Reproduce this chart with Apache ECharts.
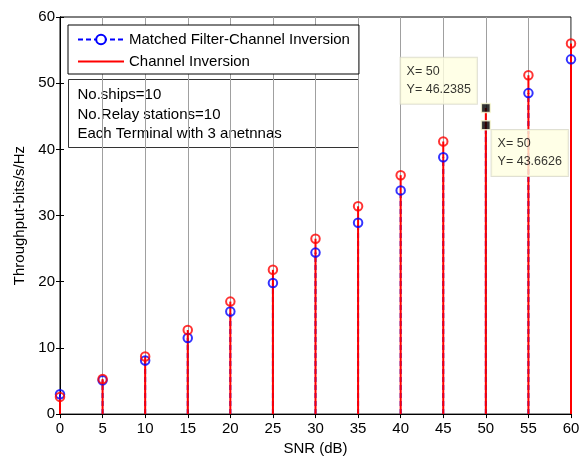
<!DOCTYPE html>
<html><head><meta charset="utf-8">
<script src="https://cdn.jsdelivr.net/npm/echarts@6/dist/echarts.min.js"></script>
<style>html,body{margin:0;padding:0;background:#fff}#c{width:584px;height:461px}</style>
</head><body><div id="c"></div>
<script>
// ---- data ----
const snr = [0, 5, 10, 15, 20, 25, 30, 35, 40, 45, 50, 55, 60];
const matchedFilter = [3.0, 5.1, 8.1, 11.5, 15.5, 19.8, 24.4, 28.9, 33.8, 38.8, 43.6626, 48.5, 53.6];
const channelInversion = [2.6, 5.3, 8.7, 12.7, 17.0, 21.8, 26.5, 31.4, 36.1, 41.2, 46.2385, 51.2, 56.0];
const xTicks = [0, 5, 10, 15, 20, 25, 30, 35, 40, 45, 50, 55, 60];
const yTicks = [0, 10, 20, 30, 40, 50, 60];
const seriesNames = ['Matched Filter-Channel Inversion', 'Channel Inversion'];
const noteLines = ['No.ships=10', 'No.Relay stations=10', 'Each Terminal with 3 anetnnas'];
const tipSNR = 50;

const FONT = 'Arial, "Liberation Sans", Helvetica, sans-serif';
const tipIdx = snr.indexOf(tipSNR);

function stemSeries(id, values, color, dashed) {
  return {
    type: 'custom', id: id, silent: true,
    data: snr.map((x, i) => [x, values[i]]),
    renderItem: (params, api) => {
      const p0 = api.coord([api.value(0), 0]);
      const p1 = api.coord([api.value(0), api.value(1)]);
      return {
        type: 'line',
        shape: {x1: p0[0], y1: p0[1], x2: p1[0], y2: p1[1]},
        style: {stroke: color, lineWidth: 2, lineDash: dashed ? [5, 3] : null}
      };
    }
  };
}
function markerSeries(id, values, color) {
  return {
    type: 'scatter', id: id, silent: true,
    symbol: 'circle', symbolSize: 8.5,
    itemStyle: {color: 'rgba(0,0,0,0)', borderColor: color, borderWidth: 2},
    data: snr.map((x, i) => [x, values[i]]).filter(d => d[0] !== tipSNR)
  };
}
function tipLabel(v) { return 'X= ' + tipSNR + '\nY= ' + v; }

const option = {
  animation: false,
  backgroundColor: '#fff',
  grid: {left: 60, right: 13, top: 17, bottom: 41, show: true, borderColor: '#000', borderWidth: 1, containLabel: false},
  legend: {
    data: [
      {name: seriesNames[0]},
      {name: seriesNames[1], icon: 'path://M0,0 L46,0 L46,2 L0,2 Z'}
    ],
    orient: 'vertical', left: 68, top: 25,
    itemWidth: 46, itemHeight: 12, itemGap: 7,
    padding: [7, 9, 5, 9],
    backgroundColor: '#fff', borderColor: '#000', borderWidth: 1,
    textStyle: {fontFamily: FONT, fontSize: 15, color: '#000'},
    selectedMode: false
  },
  xAxis: [{
    type: 'value', min: xTicks[0], max: xTicks[xTicks.length - 1], interval: xTicks[1] - xTicks[0],
    name: 'SNR (dB)', nameLocation: 'middle', nameGap: 24,
    nameTextStyle: {fontFamily: FONT, fontSize: 15, color: '#000'},
    axisLine: {lineStyle: {color: '#000', width: 1}},
    axisTick: {inside: true, length: 4, lineStyle: {color: '#000'}},
    axisLabel: {fontFamily: FONT, fontSize: 15, color: '#000', margin: 7},
    splitLine: {show: true, lineStyle: {color: '#a0a0a0', width: 1}}
  }, {
    type: 'value', position: 'top', min: xTicks[0], max: xTicks[xTicks.length - 1], interval: xTicks[1] - xTicks[0],
    axisLine: {lineStyle: {color: '#000'}}, axisTick: {inside: true, length: 4, lineStyle: {color: '#000'}},
    axisLabel: {show: false}, splitLine: {show: false}
  }],
  yAxis: [{
    type: 'value', min: yTicks[0], max: yTicks[yTicks.length - 1], interval: yTicks[1] - yTicks[0],
    name: 'Throughput-bits/s/Hz', nameLocation: 'middle', nameGap: 32,
    nameTextStyle: {fontFamily: FONT, fontSize: 15, color: '#000'},
    axisLine: {show: true, lineStyle: {color: '#000', width: 1}},
    axisTick: {show: true, inside: true, length: 4, lineStyle: {color: '#000'}},
    axisLabel: {fontFamily: FONT, fontSize: 15, color: '#000', margin: 5},
    splitLine: {show: false}
  }, {
    type: 'value', position: 'right', min: yTicks[0], max: yTicks[yTicks.length - 1], interval: yTicks[1] - yTicks[0],
    axisLine: {show: true, lineStyle: {color: '#000'}},
    axisTick: {show: true, inside: true, length: 4, lineStyle: {color: '#000'}},
    axisLabel: {show: false}, splitLine: {show: false}
  }],
  graphic: [{
    type: 'group', left: 68, top: 79,
    children: [
      {type: 'rect', shape: {x: 0, y: 0, width: 290, height: 68}, style: {fill: 'transparent', stroke: '#333', lineWidth: 1}},
      {type: 'text', x: 9, y: 6, style: {text: noteLines.join('\n'), font: '15px ' + FONT, fill: '#000', lineHeight: 19.5}}
    ]
  }],
  series: [
    stemSeries('mfStem', matchedFilter, '#0000ff', true),
    markerSeries('mfMark', matchedFilter, '#0000ff'),
    stemSeries('ciStem', channelInversion, '#ff0000', false),
    markerSeries('ciMark', channelInversion, '#ff0000'),
    {
      type: 'scatter', id: 'tips', silent: true, z: 10,
      symbol: 'rect', symbolSize: 9,
      itemStyle: {color: '#000', borderColor: '#ffffd8', borderWidth: 1.5},
      data: [
        {value: [tipSNR, channelInversion[tipIdx]],
         label: {show: true, position: [-80, -45], formatter: tipLabel(channelInversion[tipIdx])}},
        {value: [tipSNR, matchedFilter[tipIdx]],
         label: {show: true, position: [11, 10], formatter: tipLabel(matchedFilter[tipIdx])}}
      ],
      label: {
        fontFamily: FONT, fontSize: 12.5, color: '#000', lineHeight: 18, align: 'left', verticalAlign: 'top',
        backgroundColor: '#ffffe1', borderColor: '#d8d8c8', borderWidth: 1, padding: [5, 6, 5, 6]
      }
    },
    {name: seriesNames[0], type: 'line', data: [], symbol: 'emptyCircle', symbolSize: 9,
     lineStyle: {color: '#0000ff', width: 2, type: [5, 3]}, itemStyle: {color: '#0000ff', borderWidth: 2}},
    {name: seriesNames[1], type: 'line', data: [], symbol: 'none',
     lineStyle: {color: '#ff0000', width: 2}, itemStyle: {color: '#ff0000'}}
  ]
};
const chart = echarts.init(document.getElementById('c'), null, {renderer: 'canvas'});
chart.setOption(option);
</script>
</body></html>
